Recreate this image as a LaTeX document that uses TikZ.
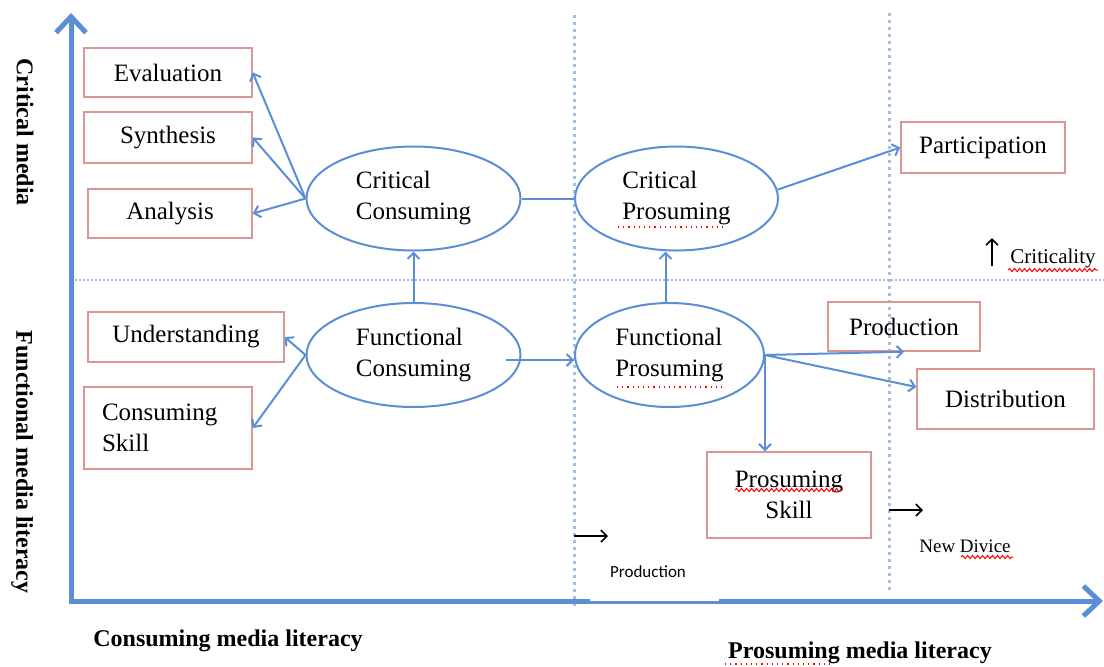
\documentclass[tikz,border=0pt]{standalone}
\usepackage{fontspec}
\setmainfont{Liberation Serif}
\newfontfamily\calib{Carlito}
\usetikzlibrary{arrows.meta,shapes.geometric,decorations.pathmorphing}
\definecolor{cblue}{RGB}{91,142,214}
\definecolor{cbox}{RGB}{217,150,148}
\definecolor{cdot}{RGB}{165,190,228}
\begin{document}
\begin{tikzpicture}[x=0.5pt,y=-0.5pt,
  box/.style={draw=cbox, line width=0.7pt, rectangle, inner sep=0pt, font=\fontsize{12.5}{15.5}\selectfont},
  oval/.style={draw=cblue, line width=1pt, ellipse, inner sep=0pt, minimum height=52pt, align=left, font=\fontsize{12.5}{15.5}\selectfont},
  conn/.style={draw=cblue, line width=1pt, -{Straight Barb[length=3pt,width=6pt]}},
  axisline/.style={draw=cblue, line width=2.5pt, line join=miter, {Straight Barb[length=8pt,width=15pt]}-{Straight Barb[length=8pt,width=15pt]}},
  vgrid/.style={draw=cdot, line width=1.5pt, dash pattern=on 1.5pt off 2pt},
  hgrid/.style={draw=cdot, line width=0.8pt, dash pattern=on 0.8pt off 1.2pt},
  blackarrow/.style={draw=black, line width=0.8pt, -{Straight Barb[length=3pt,width=6pt]}},
  axlabel/.style={font=\bfseries\fontsize{12}{14}\selectfont},
  spell/.style={draw=red, line width=0.5pt, decorate, decoration={snake, amplitude=0.8pt, segment length=2.5pt}},
  spelldot/.style={draw=red, line width=0.6pt, dotted}
]
\useasboundingbox (0,0) rectangle (1104,666);

% grid lines
\draw[hgrid] (75,280) -- (1104,280);
\draw[vgrid] (574,15) -- (574,610);
\draw[vgrid] (889,13) -- (889,592);

% axes
\coordinate (ytip) at (71,13);
\coordinate (O) at (71,601);
\coordinate (xtip) at (1103,601);
\draw[axisline] (ytip) -- (O) -- (xtip);
\fill[white] (590,596) rectangle (719,600.5);

% boxes
\node[box, minimum width=84pt, minimum height=24.5pt] (eval) at (168,72.5) {Evaluation};
\node[box, minimum width=84pt, minimum height=25.5pt] (synth) at (168,137.5) {Synthesis};
\node[box, minimum width=82pt, minimum height=24.5pt] (anal) at (170,213.5) {Analysis};
\node[box, minimum width=98pt, minimum height=25pt] (under) at (186,337) {Understanding};
\node[box, minimum width=84pt, minimum height=41pt, text width=66pt, align=left] (cskill) at (168,428) {Consuming\\Skill};
\node[box, minimum width=82pt, minimum height=25.5pt] (part) at (983,147.5) {Participation};
\node[box, minimum width=76pt, minimum height=24.5pt] (prod) at (904,326.5) {Production};
\node[box, minimum width=88.5pt, minimum height=30pt] (dist) at (1005.5,399) {Distribution};
\node[box, minimum width=82pt, minimum height=43pt, align=center] (pskill) at (789,495) {Prosuming\\Skill};

% ellipses
\node[oval, minimum width=107pt] (cc) at (413.5,198.5) {Critical\\Consuming};
\node[oval, minimum width=101.5pt] (cp) at (676.5,198.5) {Critical\\Prosuming};
\node[oval, minimum width=107pt] (fc) at (413.5,355) {Functional\\Consuming};
\node[oval, minimum width=94.5pt] (fp) at (669.5,355) {Functional\\Prosuming};

% connectors
\draw[conn] (cc.west) -- (eval.east);
\draw[conn] (cc.west) -- (synth.east);
\draw[conn] (cc.west) -- (anal.east);
\draw[draw=cblue, line width=1pt] (cc.east) -- (cp.west);
\draw[conn] (fc.north) -- (cc.south);
\draw[conn] ([xshift=-2pt]fp.north) -- ([xshift=-2pt]fp.north |- cp.south);
\draw[conn] (fc.west) -- (under.east);
\draw[conn] (fc.west) -- (cskill.east);
\draw[conn] ([shift={(-16,5)}]fc.east) -- ([shift={(0,5)}]fp.west);
\draw[conn] (cp.5) -- (part.west);
\draw[conn] (fp.east) -- (prod.south);
\draw[conn] (fp.east) -- ([yshift=6pt]dist.west);
\draw[conn] (fp.east) -- (fp.east |- pskill.north);

% small black arrows
\coordinate (a1s) at (574,536); \coordinate (a1e) at (608,536);
\coordinate (a2s) at (889,510); \coordinate (a2e) at (923,510);
\coordinate (a3s) at (992,266); \coordinate (a3e) at (992,238);
\draw[blackarrow] (a1s) -- (a1e);
\draw[blackarrow] (a2s) -- (a2e);
\draw[blackarrow] (a3s) -- (a3e);

% labels
\node[font=\calib\fontsize{8.5}{10}\selectfont] (prodlbl) at (648,572) {Production};
\node[font=\fontsize{9.5}{11}\selectfont] (newdev) at (965,546) {New Divice};
\node[font=\fontsize{10.5}{12}\selectfont] (crit) at (1053,258) {Criticality};
\node[axlabel, rotate=-90] (ylab1) at (25,132) {Critical media};
\node[axlabel, rotate=-90] (ylab2) at (22,462) {Functional media literacy};
\node[axlabel] (xlab1) at (228,641) {Consuming media literacy};
\node[axlabel] (xlab2) at (860,653) {Prosuming media literacy};

% spell-check marks
\draw[spelldot] (618,227) -- (724,227);
\draw[spelldot] (617,387) -- (723,387);
\draw[spell] (735,490) -- (843,490);
\draw[spell] (961,557) -- (1013,557);
\draw[spell] (1008,270) -- (1098,270);
\draw[spelldot] (725,664) -- (830,664);
\end{tikzpicture}
\end{document}
